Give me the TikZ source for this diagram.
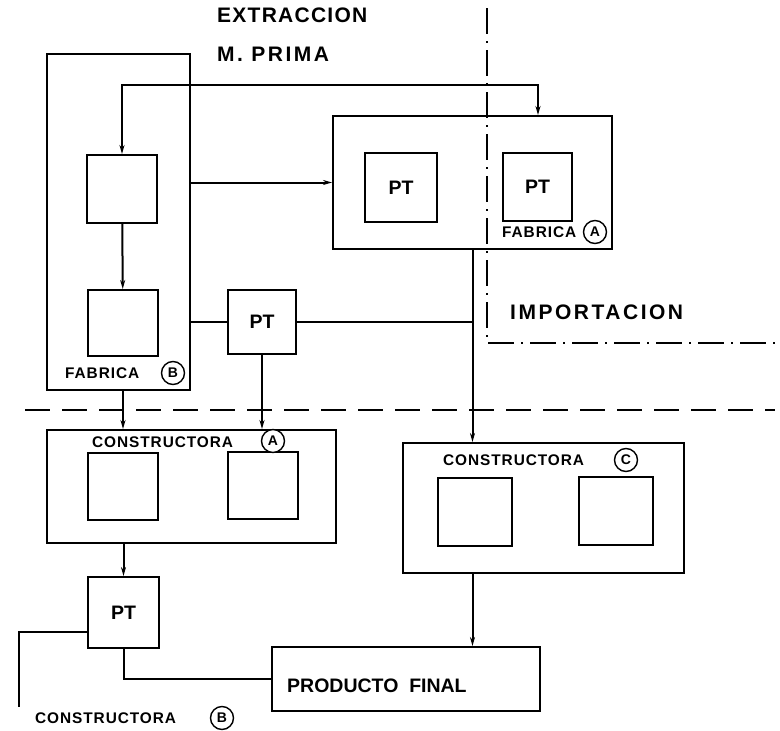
\documentclass[tikz,border=0pt]{standalone}
\usepackage{fontspec}
\setmainfont{Liberation Sans}
\newfontfamily\rotulo{Liberation Sans}[LetterSpace=6]
\newfontfamily\rotuloancho{Liberation Sans}[LetterSpace=12]
\usetikzlibrary{arrows.meta,calc}
\tikzset{
  caja/.style={draw, line width=2pt, inner sep=0pt, font=\bfseries\fontsize{19.5}{20}\selectfont},
  linea/.style={line width=2pt},
  flecha/.style={linea, -{Stealth[length=9pt,width=5pt]}},
  flechas/.style={linea, {Stealth[length=9pt,width=5pt]}-{Stealth[length=9pt,width=5pt]}},
  letra/.style={anchor=west, inner sep=0pt, font=\rotulo\bfseries\fontsize{15.4}{16}\selectfont},
  titulo/.style={anchor=west, inner sep=0pt, font=\rotuloancho\bfseries\fontsize{21}{22}\selectfont},
  marca/.style={draw, circle, line width=1.4pt, inner sep=0pt, minimum size=23pt, font=\bfseries\fontsize{14}{15}\selectfont},
  raya/.style={line width=2pt, dash pattern=on 25pt off 12pt},
  rayapunto/.style={line width=2pt, dash pattern=on 26pt off 7pt on 2pt off 7pt},
}
\newcommand{\bloque}[6]{% name, x, y, width, height, text
  \node[caja, minimum width=#4pt, minimum height=#5pt] (#1) at (#2+#4/2, #3+#5/2) {#6};
}

\begin{document}
\begin{tikzpicture}[x=1pt, y=-1pt]
    \useasboundingbox (0,0) rectangle (780,731);
    % Limites
    \draw[rayapunto] (487,8) |- (775,343);
    \draw[raya] (25,410) -- (775,410);
    % Titulos
    \node[titulo, font=\rotulo\bfseries\fontsize{21}{22}\selectfont] (tExtr) at (217,15) {EXTRACCION};
    \node[titulo] (tPrima) at (217,54) {M.\ PRIMA};
    \node[titulo] (tImport) at (510,312) {IMPORTACION};
    % Fabrica B
    \bloque{fabB}{47}{54}{143}{336}{}
    \bloque{b1}{87}{155}{70}{68}{}
    \bloque{b2}{88}{290}{70}{66}{}
    \node[letra] (tFabB) at (65,373) {FABRICA};
    \node[marca] (mFabB) at (173,373) {B};
    % Fabrica A
    \bloque{fabA}{333}{116}{279}{133}{}
    \bloque{ptA1}{365}{153}{72}{69}{PT}
    \bloque{ptA2}{503}{153}{69}{68}{PT}
    \node[letra] (tFabA) at (502,232) {FABRICA};
    \node[marca] (mFabA) at (595,232) {A};
    % PT intermedio
    \bloque{ptM}{228}{290}{68}{64}{PT}
    % Constructora A
    \bloque{conA}{47}{430}{289}{113}{}
    \bloque{a1}{88}{453}{70}{67}{}
    \bloque{a2}{228}{452}{70}{67}{}
    \node[letra] (tConA) at (92,442) {CONSTRUCTORA};
    \node[marca, fill=white] (mConA) at (273,441) {A};
    % Constructora C
    \bloque{conC}{403}{443}{281}{130}{}
    \bloque{c1}{438}{478}{74}{68}{}
    \bloque{c2}{579}{477}{74}{68}{}
    \node[letra] (tConC) at (443,460) {CONSTRUCTORA};
    \node[marca] (mConC) at (626,460) {C};
    % Constructora B y producto final
    \bloque{ptB}{88}{577}{71}{71}{PT}
    \bloque{prodF}{272}{647}{268}{64}{}
    \node[anchor=west, inner sep=0pt, font=\bfseries\fontsize{19.5}{20}\selectfont] (tProd) at (287,686) {PRODUCTO\ \ FINAL};
    \node[letra] (tConB) at (35,718) {CONSTRUCTORA};
    \node[marca] (mConB) at (222,718) {B};
    % Conexiones
    \coordinate (vuelta) at (538,85);
    \coordinate (finB) at (19,707);
    \draw[flechas] (b1.north) |- (vuelta) -- (vuelta |- fabA.north);
    \draw[flecha] (b1) -- (b2);
    \draw[flecha] (fabB.east |- fabA.west) -- (fabA.west);
    \draw[linea] (fabB.east |- ptM) -- (ptM);
    \draw[linea] (ptM.east) -- (ptM.east -| fabA.south);
    \draw[flecha] (fabA.south) -- (fabA.south |- conC.north);
    \draw[flecha] (b2 |- fabB.south) -- (b2 |- conA.north);
    \draw[flecha] (ptM.south) -- (ptM.south |- conA.north);
    \draw[flecha] (ptB |- conA.south) -- (ptB.north);
    \draw[linea] ([yshift=-19.5pt]ptB.west) -| (finB);
    \draw[linea] (ptB.south) |- (prodF.west);
    \draw[flecha] (fabA.south |- conC.south) -- (fabA.south |- prodF.north);
\end{tikzpicture}
\end{document}
